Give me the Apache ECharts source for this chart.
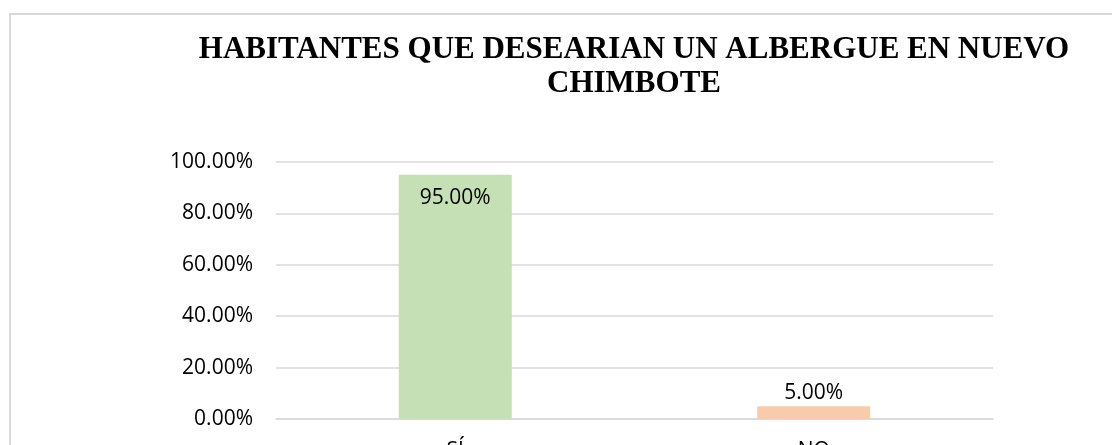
<!DOCTYPE html>
<html>
<head>
<meta charset="utf-8">
<script src="https://cdn.jsdelivr.net/npm/echarts@6/dist/echarts.min.js"></script>
<style>
  html, body { margin: 0; padding: 0; background: #fff; }
  #chart { width: 1112px; height: 445px; }
</style>
</head>
<body>
<div id="chart"></div>
<script>
var categories = ['SÍ', 'NO']
var values = [0.95, 0.05]
var barColors = ['#C5E0B4', '#F8CBAD']
var titleText = 'HABITANTES QUE DESEARIAN UN ALBERGUE EN NUEVO\nCHIMBOTE'

var chart = echarts.init(document.getElementById('chart'))

function pct(v) {
  return (v * 100).toFixed(2) + '%'
}

var option = {
  animation: false,
  // marco del gráfico
  graphic: [
    {
      type: 'rect',
      shape: { x: 10, y: 14, width: 1120, height: 450 },
      style: { fill: 'none', stroke: '#d9d9d9', lineWidth: 2 },
      silent: true,
    },
  ],
  title: {
    text: titleText,
    left: 629,
    top: 28,
    textAlign: 'center',
    textStyle: {
      fontFamily: 'Liberation Serif',
      fontWeight: 'bold',
      fontSize: 31,
      lineHeight: 34,
      color: '#000',
    },
  },
  grid: {
    left: 276,
    right: 119,
    top: 162,
    bottom: 26,
    outerBoundsMode: 'none',
    containLabel: false,
  },
  xAxis: {
    type: 'category',
    data: categories,
    axisTick: { show: false },
    axisLine: { lineStyle: { color: '#d9d9d9', width: 1.5 } },
    axisLabel: {
      margin: 22,
      color: '#000',
      fontSize: 21,
      fontFamily: 'Open Sans',
    },
  },
  yAxis: {
    type: 'value',
    min: 0,
    max: 1,
    interval: 0.2,
    axisLine: { show: false },
    axisTick: { show: false },
    splitLine: { lineStyle: { color: '#d9d9d9', width: 1.5 } },
    axisLabel: {
      margin: 23,
      color: '#000',
      fontSize: 21,
      fontFamily: 'Open Sans',
      formatter: pct,
    },
  },
  series: [
    {
      type: 'bar',
      barWidth: 113,
      data: values.map(function (v, i) {
        return {
          value: v,
          itemStyle: { color: barColors[i] },
          label: i == 0
            ? { position: 'insideTop', distance: 13 }
            : { position: 'top', distance: 3 },
        }
      }),
      label: {
        show: true,
        color: '#000',
        fontSize: 21,
        fontFamily: 'Open Sans',
        formatter: function (p) { return pct(p.value) },
      },
    },
  ],
}

chart.setOption(option)
</script>
</body>
</html>
